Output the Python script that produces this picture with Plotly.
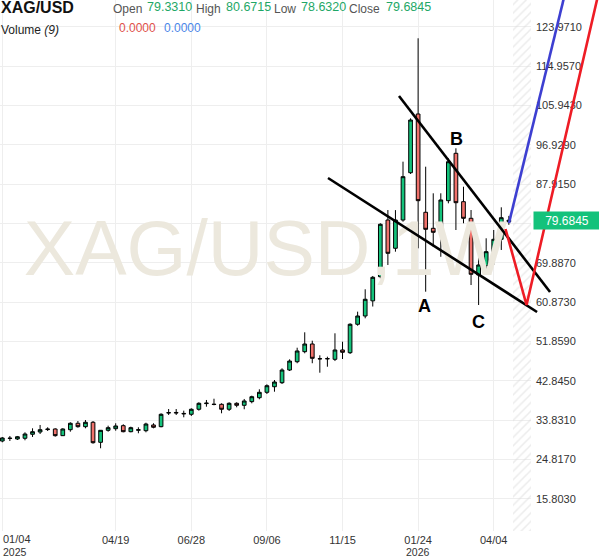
import pandas as pd
import plotly.graph_objects as go

W, H = 599, 557

# ---------------- data ----------------
week_start = "2025-01-04"
opens = [
    29.08, 29.65, 29.54, 29.70, 30.62, 31.14, 31.70, 31.83, 30.30, 31.67,
    33.14, 32.36, 33.37, 28.78, 31.53, 31.90, 32.59, 31.21, 31.55, 31.44,
    32.75, 32.36, 35.50, 35.62, 35.40, 35.20, 36.35, 37.65, 37.52, 37.49,
    36.35, 37.72, 37.26, 38.10, 39.00, 40.24, 41.52, 42.44, 45.35, 47.25,
    49.55, 51.31, 47.90, 47.98, 47.80, 49.94, 49.32, 55.83, 57.73, 61.20,
    66.74, 79.73, 73.25, 79.73, 90.57, 104.03, 81.50, 77.83, 77.44, 84.16,
    95.02, 83.93, 80.12, 67.13, 69.26, 72.10, 75.31, 79.331]
highs = [
    30.00, 30.23, 30.23, 31.07, 31.99, 32.75, 32.22, 31.99, 31.99, 33.37,
    33.66, 33.89, 33.66, 31.60, 32.59, 33.14, 32.91, 32.36, 32.22, 33.27,
    33.14, 35.43, 36.41, 36.41, 36.03, 36.57, 37.95, 38.48, 38.77, 37.72,
    37.95, 37.95, 38.71, 39.46, 40.93, 42.07, 43.06, 45.74, 47.80, 50.46,
    53.99, 52.07, 48.72, 48.40, 53.76, 51.84, 56.06, 58.72, 63.85, 66.90,
    78.98, 82.02, 82.00, 93.10, 103.04, 121.38, 91.95, 85.85, 85.85, 93.87,
    96.17, 87.36, 82.02, 74.39, 75.54, 77.44, 82.64, 80.6715]
lows = [
    28.78, 29.08, 29.31, 29.24, 30.00, 30.68, 31.37, 30.07, 30.23, 31.21,
    32.13, 31.99, 28.46, 27.41, 31.21, 31.44, 31.07, 31.07, 30.85, 31.07,
    31.99, 32.22, 35.04, 35.04, 34.51, 34.81, 36.03, 36.94, 37.26, 35.43,
    35.96, 36.80, 36.35, 37.72, 38.64, 39.85, 40.38, 42.14, 45.12, 46.90,
    49.18, 46.90, 44.73, 46.10, 47.40, 47.87, 49.02, 55.50, 57.20, 59.90,
    66.37, 69.42, 72.47, 79.34, 90.28, 73.24, 63.30, 73.60, 71.30, 83.55,
    77.44, 78.98, 64.83, 60.25, 67.13, 69.42, 72.86, 78.632]
closes = [
    29.77, 29.72, 30.06, 30.68, 31.21, 31.67, 31.80, 30.30, 31.83, 33.14,
    32.36, 33.37, 28.69, 31.53, 32.13, 32.52, 31.21, 32.13, 31.65, 32.97,
    32.22, 35.20, 35.57, 35.52, 35.32, 36.35, 37.72, 37.75, 37.45, 36.35,
    37.72, 37.26, 38.25, 39.23, 40.24, 41.75, 42.60, 45.35, 47.41, 49.71,
    51.31, 48.03, 47.94, 47.92, 49.94, 49.41, 55.83, 57.73, 61.56, 66.60,
    78.75, 72.10, 79.73, 89.66, 102.65, 84.16, 77.60, 76.91, 84.32, 93.09,
    83.70, 80.12, 67.29, 69.42, 72.47, 75.31, 80.26, 79.6845]
dates = pd.date_range(week_start, periods=len(opens), freq="7D")

tick_dates = ["2025-01-04", "2025-04-19", "2025-06-28", "2025-09-06",
              "2025-11-15", "2026-01-24", "2026-04-04"]
tick_text = ["", "04/19", "06/28", "09/06", "11/15", "01/24", "04/04"]
first_tick_text = "01/04"
year_dates = ["2025-01-04", "2026-01-24"]
year_text = ["2025", "2026"]

price_ticks = [15.8030, 24.8170, 33.8310, 42.8450, 51.8590, 60.8730, 69.8870,
               78.9010, 87.9150, 96.9290, 105.9430, 114.9570, 123.9710]
price_tick_text = ["15.8030", "24.8170", "33.8310", "42.8450", "51.8590",
                   "60.8730", "69.8870", "", "87.9150", "96.9290",
                   "105.9430", "114.9570", "123.9710"]

header = dict(symbol="XAG/USD", open="79.3310", high="80.6715",
              low="78.6320", close="79.6845")
volume_values = ["0.0000", "0.0000"]
last_price = 79.6845

# wave labels (week offset from first candle, price)
wave_labels = ["A", "B", "C"]
wave_label_weeks = [55.78, 60.08, 62.92]
wave_label_prices = [60.13, 98.41, 56.36]

# drawn lines (week offset, price)
upper_trend_weeks, upper_trend_prices = [52.47, 72.45], [108.15, 63.23]
lower_trend_weeks, lower_trend_prices = [43.08, 70.73], [89.36, 58.65]
bull_weeks, bull_prices = [67.02, 74.90], [79.05, 135.0]
bear_weeks, bear_prices = [66.56, 69.34, 79.30], [77.67, 60.25, 135.0]

# ---------------- geometry ----------------
t0 = pd.Timestamp(week_start)


def wk(w):
    return (t0 + pd.Timedelta(days=7 * w)).strftime("%Y-%m-%d %H:%M:%S")


x_lo, x_hi = -0.304, 69.93
y_lo, y_hi = 8.45, 130.156
plot_right_px, plot_bottom_px = 531, 531
dom_x = plot_right_px / W
dom_y0 = (H - plot_bottom_px) / H
x2_hi = x_lo + (x_hi - x_lo) / dom_x
y2_lo = y_hi - (y_hi - y_lo) / (1 - dom_y0)

FONT = "Liberation Sans, Arial, sans-serif"
GREEN = "#14c27b"
RED = "#f0716b"
AXC = "#333333"

fig = go.Figure()

# watermark (below candles)
fig.add_trace(go.Scatter(
    x=[wk(34.82)], y=[71.48], mode="text", text=["XAG/USD,1W"],
    textfont=dict(size=77, color="#ece8dd", family=FONT),
    hoverinfo="skip", showlegend=False))

# future hatched zone
hatch_a, hatch_b = 67.55, x_hi
fig.add_trace(go.Bar(
    x=[wk((hatch_a + hatch_b) / 2)], y=[y_hi - y_lo], base=[y_lo],
    width=[(hatch_b - hatch_a) * 7 * 24 * 3600 * 1000],
    marker=dict(color="#dadada", line=dict(width=0),
                pattern=dict(shape="/", fgcolor="#dadada",
                             bgcolor="rgba(0,0,0,0)", size=6, solidity=0.25)),
    hoverinfo="skip", showlegend=False))

fig.add_trace(go.Candlestick(
    x=dates, open=opens, high=highs, low=lows, close=closes,
    increasing=dict(fillcolor=GREEN, line=dict(color="#000000", width=1)),
    decreasing=dict(fillcolor=RED, line=dict(color="#000000", width=1)),
    whiskerwidth=0, hoverinfo="skip", showlegend=False))


# overlay drawing layer (full figure)
def line(ws, ps, color, width):
    fig.add_trace(go.Scatter(
        x=[wk(w) for w in ws], y=ps, mode="lines",
        line=dict(color=color, width=width), xaxis="x2", yaxis="y2",
        hoverinfo="skip", showlegend=False))


line(upper_trend_weeks, upper_trend_prices, "#000000", 2.6)
line(lower_trend_weeks, lower_trend_prices, "#000000", 2.6)
line(bull_weeks, bull_prices, "#3d3fd1", 2.6)
line(bear_weeks, bear_prices, "#ee1c25", 2.6)

annotations = []
for t, w, p in zip(wave_labels, wave_label_weeks, wave_label_prices):
    annotations.append(dict(x=wk(w), y=p, xref="x", yref="y", text=f"<b>{t}</b>",
                            showarrow=False, font=dict(size=18, color="#000000", family=FONT)))


def P(px, py):
    return px / W, 1 - py / H


def head(text, px, py, size, color):
    x, y = P(px, py)
    annotations.append(dict(x=x, y=y, xref="paper", yref="paper", text=text,
                            xanchor="left", yanchor="middle", showarrow=False,
                            font=dict(size=size, color=color, family=FONT)))


NUMG = "#1ea766"
LAB = "#555555"
head(f"<b>{header['symbol']}</b>", -1, 8, 16, "#111111")
head("Open", 111, 9.5, 12, LAB)
head(header["open"], 145, 7, 12.5, NUMG)
head("High", 194, 9.5, 12, LAB)
head(header["high"], 224, 7, 12.5, NUMG)
head("Low", 272, 9.5, 12, LAB)
head(header["low"], 299, 7, 12.5, NUMG)
head("Close", 347, 9.5, 12, LAB)
head(header["close"], 384, 7, 12.5, NUMG)
head("Volume <i>(9)</i>", -1, 30.5, 12, "#222222")
head(volume_values[0], 117, 28, 12, "#e0504a")
head(volume_values[1], 162, 28, 12, "#4a86e8")

# first date label and its year (left aligned at the edge)
head(first_tick_text, 1, 539, 11, AXC)
head(year_text[0], 1, 551.5, 10.5, AXC)
# year under 01/24
annotations.append(dict(x=year_dates[1], y=1 - 551.5 / H, xref="x", yref="paper",
                        text=year_text[1], xanchor="center", yanchor="middle",
                        showarrow=False, font=dict(size=10.5, color=AXC, family=FONT)))

# last price box
annotations.append(dict(x=533 / W, y=last_price, xref="paper", yref="y",
                        text=f"{last_price:.4f}", xanchor="left", yanchor="middle",
                        showarrow=False, bgcolor=GREEN, width=62, height=13, borderpad=2,
                        font=dict(size=12, color="#ffffff", family=FONT)))

fig.update_layout(
    width=W, height=H,
    margin=dict(l=0, r=0, t=0, b=0, autoexpand=False),
    paper_bgcolor="#ffffff", plot_bgcolor="rgba(0,0,0,0)",
    showlegend=False, boxgap=0.3, bargap=0,
    font=dict(family=FONT, size=11, color=AXC),
    xaxis=dict(type="date", domain=[0, dom_x], range=[wk(x_lo), wk(x_hi)],
               tickmode="array", tickvals=tick_dates, ticktext=tick_text,
               showgrid=True, gridcolor="#eeeeee", gridwidth=1, zeroline=False,
               showline=False, ticks="", ticklabelstandoff=1, automargin=False,
               rangeslider=dict(visible=False), fixedrange=True, anchor="y",
               tickfont=dict(size=11, color=AXC, family=FONT)),
    yaxis=dict(domain=[dom_y0, 1], range=[y_lo, y_hi], side="right",
               tickmode="array", tickvals=price_ticks, ticktext=price_tick_text,
               showgrid=True, gridcolor="#eeeeee", gridwidth=1, zeroline=False,
               showline=False, ticks="", ticklabelstandoff=4, fixedrange=True,
               automargin=False,
               anchor="x", tickfont=dict(size=11, color=AXC, family=FONT)),
    xaxis2=dict(type="date", domain=[0, 1], range=[wk(x_lo), wk(x2_hi)],
                visible=False, anchor="y2", fixedrange=True, automargin=False),
    yaxis2=dict(domain=[0, 1], range=[y2_lo, y_hi], visible=False,
                anchor="x2", fixedrange=True, automargin=False),
    annotations=annotations,
)

fig.write_html("out.html", config={"displayModeBar": False},
               post_script="document.body.style.margin='0px';document.body.style.overflow='hidden';")
